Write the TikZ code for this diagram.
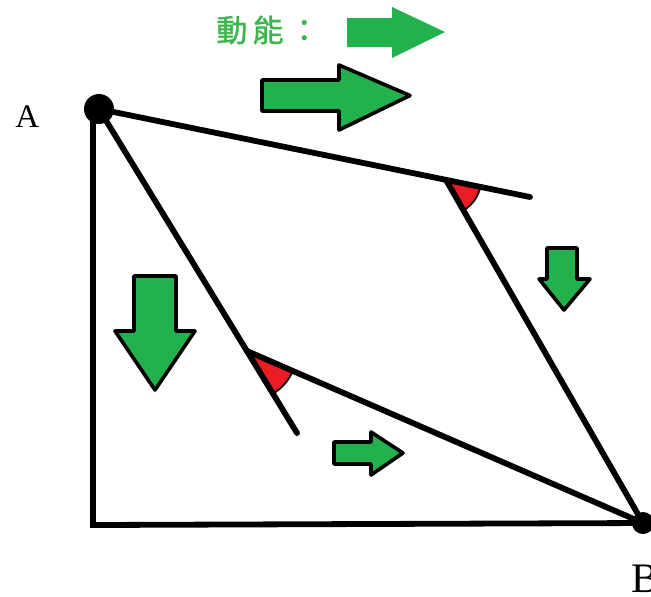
\documentclass[tikz,border=0pt]{standalone}
\usepackage{fontspec}
\setmainfont{Liberation Serif}
\newfontfamily\cjk[FakeBold=1.2]{Noto Sans CJK TC}
\definecolor{arrgreen}{HTML}{22B14C}
\definecolor{txtgreen}{HTML}{3DB54E}
\definecolor{angred}{HTML}{ED1C24}
\begin{document}
\begin{tikzpicture}[x=0.5pt,y=-0.5pt,
  edge/.style={line width=2.9pt,line cap=round},
  dot/.style={circle,fill=black,inner sep=0pt},
  garrow/.style={fill=arrgreen,draw=black,line width=1.8pt,line join=round},
  wedge/.style={fill=angred,draw=black,line width=0.9pt},
  lbl/.style={inner sep=0pt,anchor=base west}]
\useasboundingbox (0,0) rectangle (651,596);
% points
\node[dot,minimum size=15pt] (A) at (99,109) {};
\node[dot,minimum size=11pt] (B) at (643,523) {};
\coordinate (C) at (93,525);
\coordinate (T) at (93,112);
\coordinate (E1) at (530,197);
\coordinate (P1) at (446,180);
\coordinate (E2) at (297,433);
\coordinate (P2) at (247,351);
% angle wedges
\filldraw[wedge] (P1) -- ++(11.5:35) arc (11.5:60:35) -- cycle;
\filldraw[wedge] (P2) -- ++(23.4:50) arc (23.4:58.6:50) -- cycle;
% lines
\draw[edge] (T) -- (C) -- (B.center);
\draw[edge] (A.center) -- (E1);
\draw[edge] (P1) -- (B.center);
\draw[edge] (A.center) -- (E2);
\draw[edge] (P2) -- (B.center);
% labels
\node[lbl,font=\fontsize{16.5}{18}\selectfont] (LA) at (15,127) {A};
\node[lbl,font=\fontsize{21}{24}\selectfont] (LB) at (631,592) {B};
\node[inner sep=0pt,anchor=west,text=txtgreen,font=\cjk\fontsize{15.5}{18}\selectfont] (KE) at (216,30) {動\,能\,：};
% legend arrow (no outline)
\fill[arrgreen] (347,18) -- (392,18) -- (392,7) -- (445,32) -- (392,58) -- (392,47) -- (347,47) -- cycle;
% big right arrow
\draw[garrow] (262,80) -- (339,80) -- (339,65) -- (410,95.5) -- (339,130) -- (339,111) -- (262,111) -- cycle;
% big down arrow
\draw[garrow] (134,276) -- (176,276) -- (176,331) -- (195,331) -- (155,390) -- (115,331) -- (134,331) -- cycle;
% small down arrow
\draw[garrow] (547,248) -- (577,248) -- (577,279) -- (590,279) -- (564,310) -- (539,279) -- (547,279) -- cycle;
% small right arrow
\draw[garrow] (334,442) -- (371,442) -- (371,432) -- (403,453) -- (371,475) -- (371,464) -- (334,464) -- cycle;
\end{tikzpicture}
\end{document}
